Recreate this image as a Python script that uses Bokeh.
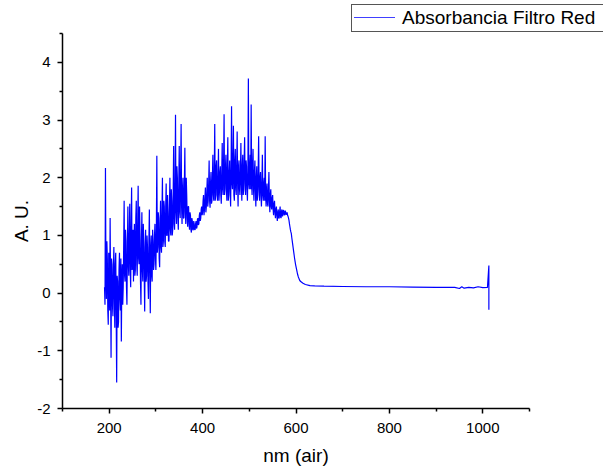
from bokeh.plotting import figure
from bokeh.models import FixedTicker, ColumnDataSource, Div
from bokeh.layouts import column
from bokeh.embed import file_html
from bokeh.resources import INLINE

# Wavelength (nm) and absorbance (A.U.)
wl_noisy = list(range(190, 611))
abs_noisy = [
    0.1, -0.2, 2.17, 0.4, -0.1, 0.9, 0.6, -0.3, -0.55, 0.7,
    0.3, -0.3, 1.3, 0.1, -1.12, 0.6, 0.5, -0.2, -0.4, 0.4,
    0.8, -0.1, -0.6, 0.5, 0.7, -0.4, -1.55, 0.3, 0.2, -0.6,
    -0.5, 0.4, 0.7, -0.1, -0.3, 0.6, -0.84, 0.2, 0.5, -0.2,
    0.1, 0.8, 1.6, 0.3, 0.2, 1.1, 0.9, 0.1, -0.2, 0.8,
    1.5, 0.5, 0.3, 1.0, 1.55, 0.4, 0.1, 1.2, 1.83, 0.4,
    0.6, 1.1, 0.2, 0.9, 1.2, 0.3, 0.4, 1.3, 1.6, 0.5,
    0.3, 1.2, 1.86, 0.6, 0.5, 1.5, 1.0, 0.2, -0.2, 0.9,
    1.4, 0.4, 0.2, 1.2, 0.9, 0.3, -0.32, 0.8, 1.1, 0.2,
    0.3, 1.0, 0.8, 0.2, -0.1, 0.9, 1.45, 0.4, -0.35, 0.8,
    1.0, 0.3, 0.2, 1.1, 0.9, 0.4, 0.5, 1.0, 1.2, 0.6,
    0.4, 1.1, 2.38, 0.7, 0.8, 1.4, 1.3, 0.6, 0.45, 1.2,
    1.6, 0.8, 0.7, 1.4, 2.0, 0.8, 0.9, 1.6, 1.5, 0.9,
    0.8, 1.5, 1.9, 1.0, 1.0, 1.7, 1.4, 0.9, 0.9, 1.5,
    2.0, 1.1, 1.0, 1.8, 1.6, 1.0, 1.1, 1.7, 2.55, 1.2,
    1.1, 1.8, 3.09, 1.4, 1.2, 2.2, 2.0, 1.3, 1.1, 1.9,
    2.55, 1.4, 1.3, 2.1, 2.93, 1.5, 1.2, 1.8, 2.0, 1.3,
    1.3, 1.9, 2.52, 1.4, 1.2, 2.0, 1.7, 1.3, 1.15, 1.5,
    1.5, 1.2, 1.1, 1.4, 1.35, 1.1, 1.05, 1.3, 1.25, 1.1,
    1.09, 1.25, 1.2, 1.1, 1.1, 1.2, 1.25, 1.12, 1.15, 1.28,
    1.3, 1.18, 1.2, 1.35, 1.4, 1.25, 1.3, 1.45, 1.5, 1.35,
    1.4, 1.6, 1.7, 1.35, 1.45, 1.65, 1.83, 1.4, 1.5, 1.75,
    2.0, 1.5, 1.6, 1.9, 2.3, 1.6, 1.48, 1.9, 2.1, 1.55,
    1.6, 2.0, 2.4, 1.7, 1.6, 2.1, 2.93, 1.6, 1.7, 2.2,
    2.3, 1.7, 1.6, 2.0, 2.5, 1.6, 1.75, 2.1, 2.2, 1.7,
    1.55, 2.1, 2.6, 1.8, 1.7, 2.3, 3.1, 1.7, 1.8, 2.2,
    2.4, 1.8, 1.6, 2.2, 2.7, 1.6, 1.7, 2.1, 2.3, 1.75,
    1.5, 2.2, 3.24, 1.9, 1.8, 2.3, 2.9, 1.7, 1.6, 2.3,
    2.5, 1.8, 1.7, 2.2, 2.8, 1.9, 1.5, 2.2, 2.3, 1.8,
    1.7, 2.1, 2.6, 1.9, 1.6, 2.2, 2.4, 1.7, 1.8, 2.3,
    2.7, 1.9, 1.7, 2.3, 2.2, 1.8, 1.6, 2.1, 3.72, 1.9,
    1.8, 2.2, 2.4, 1.8, 3.27, 1.9, 1.7, 2.2, 2.5, 1.8,
    1.6, 2.1, 2.3, 1.8, 1.5, 2.0, 2.2, 1.6, 1.7, 2.1,
    2.72, 1.8, 1.6, 2.0, 2.1, 1.7, 1.5, 1.9, 2.4, 1.7,
    1.6, 1.9, 2.0, 1.6, 2.72, 1.7, 1.5, 1.8, 1.9, 1.55,
    1.5, 1.8, 2.1, 1.6, 1.4, 1.7, 1.8, 1.5, 1.45, 1.65,
    1.7, 1.45, 1.35, 1.55, 1.6, 1.4, 1.3, 1.45, 1.5, 1.35,
    1.25, 1.4, 1.45, 1.3, 1.3, 1.42, 1.5, 1.32, 1.3, 1.42,
    1.45, 1.33, 1.35, 1.44, 1.42, 1.36, 1.35, 1.43, 1.4, 1.36,
    1.37, 1.4, 1.35, 1.33, 1.3, 1.26, 1.2, 1.15, 1.1, 1.06,
    1.03, 0.96, 0.9, 0.84, 0.78, 0.72, 0.66, 0.6, 0.55, 0.5,
    0.46, 0.42, 0.38, 0.34, 0.31, 0.28, 0.26, 0.24, 0.22, 0.21,
    0.2,
]
wl_tail = [615, 620, 630, 640, 660, 700, 750, 800, 850, 900, 940, 950,
           955, 960, 970, 980, 990, 1000, 1010, 1013, 1013, 1013]
abs_tail = [0.17, 0.15, 0.13, 0.125, 0.12, 0.115, 0.11, 0.11, 0.105, 0.1,
            0.1, 0.08, 0.11, 0.085, 0.1, 0.09, 0.11, 0.095, 0.1, 0.48,
            -0.29, 0.1]

wavelength = wl_noisy + wl_tail
absorbance = abs_noisy + abs_tail

x_major = [200, 400, 600, 800, 1000]
x_minor = [100, 300, 500, 700, 900, 1100]
y_major = [-2, -1, 0, 1, 2, 3, 4]
y_minor = [-1.5, -0.5, 0.5, 1.5, 2.5, 3.5, 4.5]
y_labels = {-2: "-2", -1: "-1", 0: "0", 1: "1", 2: "2", 3: "3", 4: "4"}

series_name = "Absorbancia Filtro Red"
line_color = "#0000FF"

p = figure(width=603, height=437, output_backend="svg", toolbar_location=None,
           x_range=(100, 1100), y_range=(-2, 4.5),
           min_border_left=62, min_border_right=74, min_border_top=1,
           min_border_bottom=61, background_fill_color="white",
           border_fill_color="white", outline_line_color=None)
p.grid.visible = False

src = ColumnDataSource(dict(x=wavelength, y=absorbance))
p.line("x", "y", source=src, line_color=line_color, line_width=1.2)

for ax in (p.xaxis[0], p.yaxis[0]):
    ax.axis_line_width = 1.5
    ax.axis_line_color = "black"
    ax.major_tick_line_width = 1.5
    ax.minor_tick_line_width = 1.5
    ax.major_tick_line_color = "black"
    ax.minor_tick_line_color = "black"
    ax.major_tick_out = 5
    ax.major_tick_in = 0
    ax.minor_tick_out = 3
    ax.minor_tick_in = 0
    ax.major_label_text_font = "Liberation Sans"
    ax.major_label_text_font_size = "15px"
    ax.major_label_text_color = "black"
    ax.axis_label_text_font = "Liberation Sans"
    ax.axis_label_text_font_size = "19px"
    ax.axis_label_text_font_style = "normal"
    ax.axis_label_text_color = "black"

p.xaxis[0].ticker = FixedTicker(ticks=x_major, minor_ticks=x_minor)
p.yaxis[0].ticker = FixedTicker(ticks=y_major, minor_ticks=y_minor)
p.yaxis[0].major_label_overrides = y_labels
p.xaxis[0].axis_label = "nm (air)"
p.yaxis[0].axis_label = "A. U."
p.xaxis[0].major_label_standoff = 9
p.yaxis[0].major_label_standoff = 7
p.xaxis[0].axis_label_standoff = 9
p.yaxis[0].axis_label_standoff = 2

legend_html = (
    '<div style="position:relative;width:603px;height:32px;overflow:hidden;background:#fff;">'
    '<div style="position:absolute;left:351px;top:4px;width:270px;height:28px;'
    'box-sizing:border-box;border:1.5px solid #555;background:#fff;">'
    f'<div style="position:absolute;left:2px;top:12px;width:41px;height:0;'
    f'border-top:1px solid {line_color};opacity:0.75;"></div>'
    '<span style="position:absolute;left:50px;top:2px;font-family:\'Liberation Sans\',Arial,sans-serif;'
    'font-size:19px;line-height:22px;color:#000;white-space:nowrap;">'
    f'{series_name}</span></div></div>'
)
legend_div = Div(text=legend_html, width=603, height=32, margin=0)

layout = column(legend_div, p, spacing=0)

open("out.html", "w").write(file_html(layout, INLINE))
